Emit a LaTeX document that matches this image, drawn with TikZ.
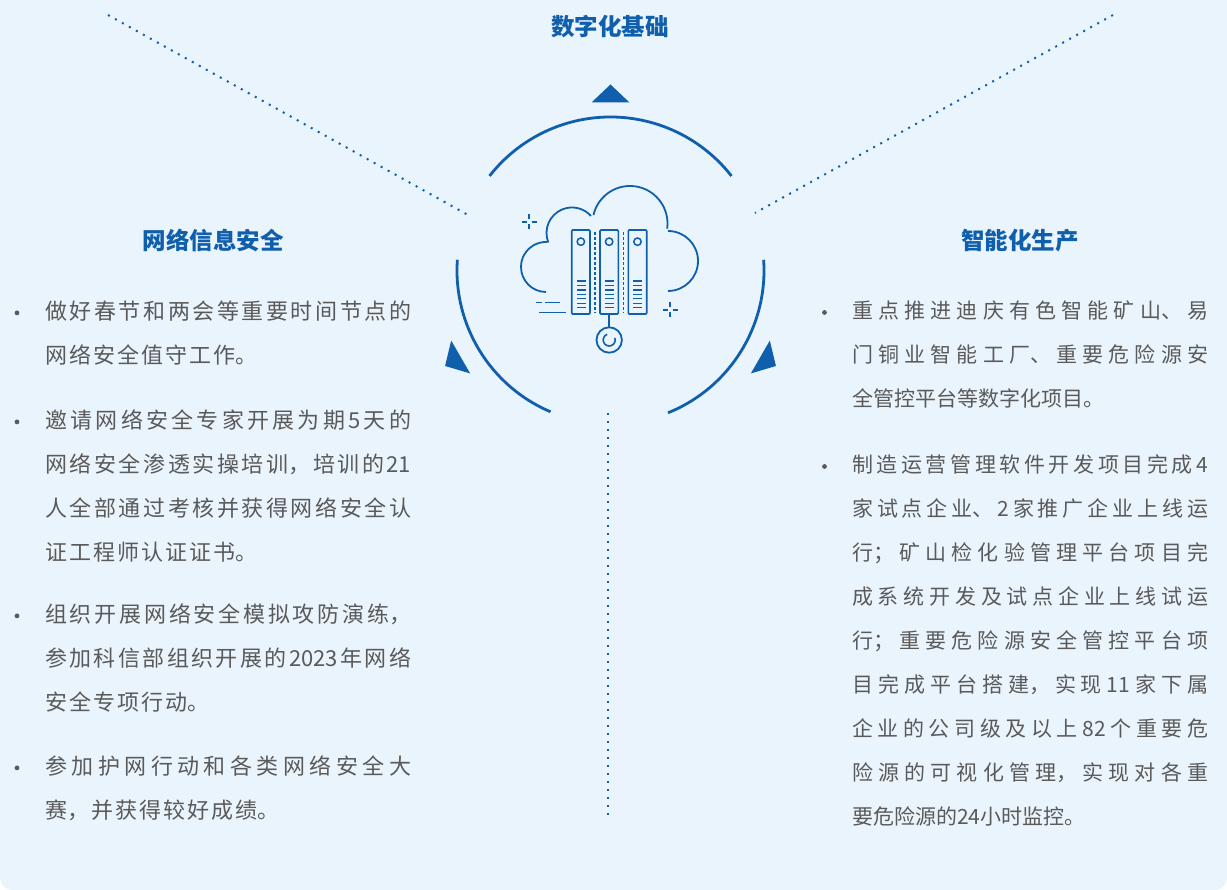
\documentclass[tikz,border=0pt]{standalone}
\usepackage{fontspec}
\usepackage{tikz}
\setmainfont{Noto Sans CJK SC}
\XeTeXlinebreaklocale "zh"
\XeTeXlinebreakskip=0pt plus 5pt
\setlength{\parindent}{0pt}
\definecolor{bgblue}{HTML}{EAF4FC}
\definecolor{mainblue}{HTML}{0F5FAD}
\definecolor{textgray}{HTML}{5A5A5A}
\newcommand\lefttext{\fontsize{22}{44}\selectfont\XeTeXlinebreakskip=2pt plus 5pt\relax}
\newcommand\righttext{\fontsize{21}{44}\selectfont\XeTeXlinebreakskip=0pt plus 8pt\relax}

\begin{document}
\begin{tikzpicture}[x=1pt, y=1pt,
  head/.style = {font=\fontsize{23.5}{28}\selectfont\bfseries, text=mainblue},
  lpara/.style = {font=\lefttext, text=textgray, text width=366pt, align=justify, inner sep=0pt, anchor=base west},
  rpara/.style = {font=\righttext, text=textgray, text width=356pt, align=justify, inner sep=0pt, anchor=base west},
  ring/.style = {draw=mainblue, line width=2.8pt},
  icon/.style = {draw=mainblue, line width=1.8pt},
  dots/.style = {draw=mainblue, line width=2pt, dash pattern=on 2pt off 6pt}]
\useasboundingbox (0,0) rectangle (1227,890);
\fill[white] (0,0) rectangle (1227,890);
\fill[bgblue] (0,20) rectangle (1227,890);
\fill[bgblue, rounded corners=12pt] (0,0) rectangle (1227,40);

% dotted guide lines
\coordinate (c) at (610.5,619.5);
\coordinate (tl1) at (108,875);
\coordinate (tl2) at (468,675);
\coordinate (tr1) at (1113,875);
\coordinate (tr2) at (755,677);
\coordinate (v1) at (608,477);
\coordinate (v2) at (608,75);
\draw[dots] (tl1) -- (tl2);
\draw[dots] (tr1) -- (tr2);
\draw[dots] (v1) -- (v2);

% ring and triangles
\draw[ring] (c) ++(38:153.5) arc[start angle=38, end angle=142, radius=153.5pt];
\draw[ring] (c) ++(176:153.5) arc[start angle=176, end angle=247, radius=153.5pt];
\draw[ring] (c) ++(-68:153.5) arc[start angle=-68, end angle=4, radius=153.5pt];
\fill[mainblue, shift={(c)}] (0,186) -- (-19,168) -- (19,168) -- cycle;
\fill[mainblue, shift={(c)}, rotate=120] (0,191) -- (-19,173) -- (19,173) -- cycle;
\fill[mainblue, shift={(c)}, rotate=240] (0,191) -- (-19,173) -- (19,173) -- cycle;

% cloud
\coordinate (lobeA) at (546,623);
\coordinate (lobeB) at (572,657);
\coordinate (lobeC) at (630,666.5);
\coordinate (lobeD) at (668,629);
\draw[icon] (lobeA) ++(270:25) arc[start angle=270, end angle=88, radius=25pt];
\draw[icon] (lobeB) ++(202:25.5) arc[start angle=202, end angle=42, radius=25.5pt];
\draw[icon] (lobeC) ++(167:37.5) arc[start angle=167, end angle=-8, radius=37.5pt];
\draw[icon] (lobeD) ++(90:30) arc[start angle=90, end angle=-90, radius=30pt];

% servers
\fill[bgblue] (571.7,576) rectangle (646.7,660);
\draw[icon, line width=1.6pt, rounded corners=1pt] (571.7,576) rectangle (590,660);
\draw[icon, line width=1.6pt, rounded corners=1pt] (600,576) rectangle (618.3,660);
\draw[icon, line width=1.6pt, rounded corners=1pt] (628.3,576) rectangle (646.7,660);
\draw[icon, line width=1.5pt] (580.85,648.3) circle (3.7pt);
\draw[icon, line width=1.5pt] (609.15,648.3) circle (3.7pt);
\draw[icon, line width=1.5pt] (637.5,648.3) circle (3.7pt);
\draw[icon, line width=9pt, dash pattern=on 1.3pt off 3.15pt] (581.2,609.65) -- (581.2,581.6);
\draw[icon, line width=9pt, dash pattern=on 1.3pt off 3.15pt] (609.5,609.65) -- (609.5,581.6);
\draw[icon, line width=9pt, dash pattern=on 1.3pt off 3.15pt] (637.8,609.65) -- (637.8,581.6);
\draw[icon, line width=1.3pt, dash pattern=on 3pt off 2pt] (595,658) -- (595,577);
\draw[icon, line width=1.3pt, dash pattern=on 3pt off 2pt] (623.3,658) -- (623.3,577);

% plug, sparkles, speed lines
\draw[icon] (609.2,576) -- (609.2,562.7);
\draw[icon] (609.2,550) circle (12.7pt);
\draw[icon, line width=1.6pt] (609.2,550) ++(110:6) arc[start angle=110, end angle=380, radius=6pt];
\draw[icon, line width=1.5pt] (521.5,668) -- (526.5,668) (531.5,668) -- (536.5,668) (529,660.5) -- (529,665.5) (529,670.5) -- (529,675.5);
\draw[icon, line width=1.5pt] (662.5,580) -- (667.5,580) (672.5,580) -- (677.5,580) (670,572.5) -- (670,577.5) (670,582.5) -- (670,587.5);
\draw[icon, line width=1.5pt] (535.7,587.7) -- (541.7,587.7) (545,587.7) -- (560,587.7) (539,577.7) -- (566,577.7);

% headings
\node[head] (top) at (610,863) {数字化基础};
\node[head] (left) at (213,649) {网络信息安全};
\node[head] (right) at (1020,649) {智能化生产};

% left column
\node[lpara] (l1) at (45,570.6) {做好春节和两会等重要时间节点的\linebreak 网络安全值守工作。};
\node[lpara] (l2) at (45,461.6) {邀请网络安全专家开展为期5天的\linebreak 网络安全渗透实操培训，培训的21\linebreak 人全部通过考核并获得网络安全认\linebreak 证工程师认证证书。};
\node[lpara] (l3) at (45,267.6) {组织开展网络安全模拟攻防演练，\linebreak 参加科信部组织开展的2023年网络\linebreak 安全专项行动。};
\node[lpara] (l4) at (45,115.6) {参加护网行动和各类网络安全大\linebreak 赛，并获得较好成绩。};
\fill[textgray] ([shift={(-28pt,6.5pt)}]l1.base west) circle (2.4pt);
\fill[textgray] ([shift={(-28pt,6.5pt)}]l2.base west) circle (2.4pt);
\fill[textgray] ([shift={(-28pt,6.5pt)}]l3.base west) circle (2.4pt);
\fill[textgray] ([shift={(-28pt,6.5pt)}]l4.base west) circle (2.4pt);

% right column
\node[rpara] (r1) at (852,571) {重点推进迪庆有色智能矿山、易\linebreak 门铜业智能工厂、重要危险源安\linebreak 全管控平台等数字化项目。};
\node[rpara] (r2) at (852,417) {制造运营管理软件开发项目完成4\linebreak 家试点企业、2家推广企业上线运\linebreak 行；矿山检化验管理平台项目完\linebreak 成系统开发及试点企业上线试运\linebreak 行；重要危险源安全管控平台项\linebreak 目完成平台搭建，实现11家下属\linebreak 企业的公司级及以上82个重要危\linebreak 险源的可视化管理，实现对各重\linebreak 要危险源的24小时监控。};
\fill[textgray] ([shift={(-27.5pt,6.5pt)}]r1.base west) circle (2.4pt);
\fill[textgray] ([shift={(-27.5pt,6.5pt)}]r2.base west) circle (2.4pt);
\end{tikzpicture}
\end{document}
